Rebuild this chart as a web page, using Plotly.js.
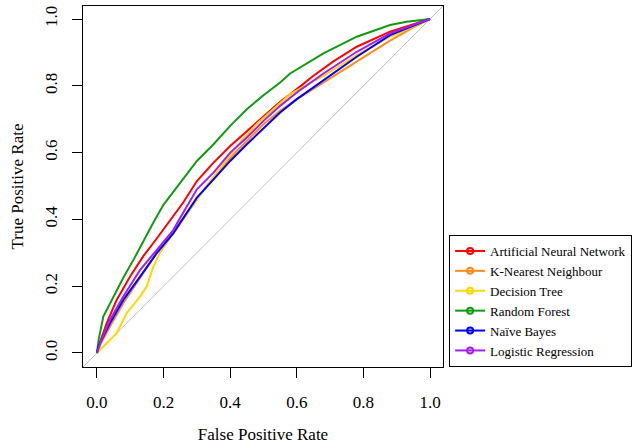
<!DOCTYPE html>
<html>
<head>
<meta charset="utf-8">
<script src="https://cdn.plot.ly/plotly-3.0.1.min.js"></script>
<style>html,body{margin:0;padding:0;background:#fff;}#chart{width:639px;height:448px;}</style>
</head>
<body>
<div id="chart"></div>
<script>
// ---- Data ----
const seriesNames = ["Artificial Neural Network","K-Nearest Neighbour","Decision Tree","Random Forest","Naïve Bayes","Logistic Regression"];
const seriesColors = ["#ff0000","#ff8c1a","#ffd700","#119911","#0000ff","#a020f0"];

const annFpr = [0,0.01,0.029,0.059,0.099,0.139,0.179,0.219,0.26,0.3,0.35,0.4,0.45,0.5,0.55,0.6,0.65,0.71,0.78,0.88,0.95,1];
const annTpr = [0,0.035,0.089,0.159,0.228,0.29,0.342,0.395,0.452,0.515,0.57,0.62,0.665,0.71,0.752,0.79,0.83,0.873,0.917,0.962,0.985,1];

const knnFpr = [0,0.01,0.039,0.079,0.129,0.179,0.229,0.279,0.329,0.379,0.42,0.46,0.5,0.55,0.6,0.64,0.68,0.73,0.78,0.88,0.95,1];
const knnTpr = [0,0.025,0.079,0.149,0.225,0.3,0.365,0.43,0.5,0.56,0.605,0.645,0.685,0.725,0.76,0.785,0.81,0.84,0.87,0.935,0.975,1];

const dtFpr = [0,0.009,0.039,0.059,0.089,0.129,0.149,0.169,0.189,0.229,0.279,0.329,0.379,0.429,0.479,0.53,0.58,0.68,0.78,0.88,0.96,1];
const dtTpr = [0,0.009,0.039,0.059,0.119,0.169,0.199,0.258,0.3,0.358,0.428,0.5,0.565,0.63,0.685,0.73,0.775,0.83,0.892,0.947,0.982,1];

const rfFpr = [0,0.005,0.019,0.049,0.079,0.109,0.139,0.169,0.199,0.249,0.3,0.35,0.4,0.45,0.5,0.55,0.58,0.68,0.78,0.88,0.93,1];
const rfTpr = [0,0.04,0.109,0.169,0.225,0.278,0.335,0.39,0.443,0.51,0.575,0.625,0.68,0.73,0.772,0.81,0.837,0.897,0.947,0.982,0.992,1];

const nbFpr = [0,0.004,0.039,0.079,0.129,0.179,0.229,0.25,0.3,0.35,0.4,0.45,0.5,0.55,0.6,0.68,0.78,0.88,1];
const nbTpr = [0,0.019,0.089,0.159,0.228,0.298,0.358,0.39,0.465,0.52,0.575,0.625,0.672,0.72,0.76,0.817,0.887,0.952,1];

const lrFpr = [0,0.01,0.039,0.079,0.129,0.179,0.229,0.25,0.3,0.35,0.4,0.45,0.5,0.55,0.6,0.68,0.78,0.88,1];
const lrTpr = [0,0.03,0.099,0.169,0.248,0.308,0.368,0.405,0.49,0.54,0.6,0.645,0.695,0.74,0.78,0.837,0.902,0.957,1];

const diagX = [-0.05, 1.05];
const diagY = [-0.05, 1.05];

const xTicks = [0, 0.2, 0.4, 0.6, 0.8, 1.0];
const xTickText = ["0.0","0.2","0.4","0.6","0.8","1.0"];
const yTicks = [0, 0.2, 0.4, 0.6, 0.8, 1.0];
const yTickText = ["0.0","0.2","0.4","0.6","0.8","1.0"];

// ---- Build traces ----
const fprs = [annFpr, knnFpr, dtFpr, rfFpr, nbFpr, lrFpr];
const tprs = [annTpr, knnTpr, dtTpr, rfTpr, nbTpr, lrTpr];

const traces = [{
  x: diagX, y: diagY, mode: "lines", showlegend: false, hoverinfo: "skip",
  line: {color: "#bebebe", width: 1}
}];
fprs.forEach((fx, i) => {
  traces.push({
    x: fx, y: tprs[i], mode: "lines", name: seriesNames[i], showlegend: false,
    line: {color: seriesColors[i], width: 2}
  });
});
// legend-only entries (line with open circle)
seriesNames.forEach((n, i) => {
  traces.push({
    x: [null], y: [null], mode: "lines+markers", name: n, showlegend: true,
    line: {color: seriesColors[i], width: 2},
    marker: {symbol: "circle-open", size: 6, color: seriesColors[i], line: {width: 2}}
  });
});

const FONT = "Liberation Serif";
const layout = {
  width: 639, height: 448,
  margin: {l: 83, r: 196, t: 6, b: 81, autoexpand: false},
  paper_bgcolor: "#fff", plot_bgcolor: "#fff",
  font: {family: FONT, color: "#000", size: 17},
  showlegend: true,
  xaxis: {
    range: [-0.042, 1.039], tickmode: "array", tickvals: xTicks, ticktext: xTickText,
    showgrid: false, zeroline: false, showline: true, mirror: true, linecolor: "#000", linewidth: 1,
    ticks: "outside", ticklen: 10, tickcolor: "#000", tickwidth: 1, ticklabelstandoff: 10,
    tickfont: {family: FONT, size: 17, color: "#000"},
    title: {text: "False Positive Rate", font: {family: FONT, size: 17, color: "#000"}, standoff: 16}
  },
  yaxis: {
    range: [-0.042, 1.039], tickmode: "array", tickvals: yTicks, ticktext: yTickText,
    showgrid: false, zeroline: false, showline: true, mirror: true, linecolor: "#000", linewidth: 1,
    ticks: "outside", ticklen: 10, tickcolor: "#000", tickwidth: 1, tickangle: -90, ticklabelstandoff: 8,
    tickfont: {family: FONT, size: 17, color: "#000"},
    title: {text: "True Positive Rate", font: {family: FONT, size: 17, color: "#000"}, standoff: 14}
  },
  legend: {
    x: 1.017, xanchor: "left", y: 0, yanchor: "bottom",
    bgcolor: "#fff", bordercolor: "#000", borderwidth: 1,
    font: {family: FONT, size: 13, color: "#000"},
    tracegroupgap: 0, itemwidth: 30
  }
};

Plotly.newPlot("chart", traces, layout, {staticPlot: true, displayModeBar: false});
</script>
</body>
</html>
